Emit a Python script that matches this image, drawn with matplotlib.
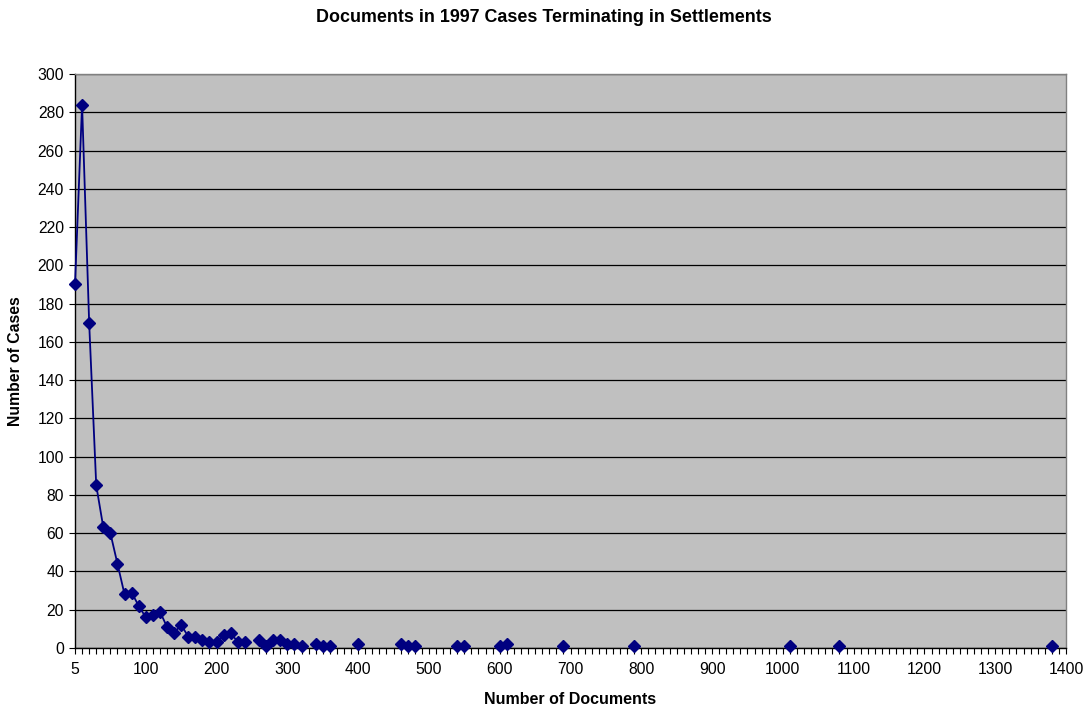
import numpy as np
import matplotlib
matplotlib.use("Agg")
import matplotlib.pyplot as plt
from matplotlib.ticker import FixedLocator, MultipleLocator

plt.rcParams['font.family'] = ['Liberation Sans', 'DejaVu Sans']

# Category axis (number of documents)
doc_categories = [5] + list(range(10, 1401, 10))
# Observed points (number of documents -> number of cases)
doc_values = [5, 10, 20, 30, 40, 50, 60, 70, 80, 90, 100, 110, 120, 130, 140,
              150, 160, 170, 180, 190, 200, 210, 220, 230, 240, 260, 270, 280,
              290, 300, 310, 320, 340, 350, 360, 400, 460, 470, 480, 540, 550,
              600, 610, 690, 790, 1010, 1080, 1380]
case_counts = [190, 284, 170, 85, 63, 60, 44, 28, 29, 22, 16, 17, 19, 11, 8,
               12, 6, 6, 4, 3, 3, 7, 8, 3, 3, 4, 1, 4,
               4, 2, 2, 1, 2, 1, 1, 2, 2, 1, 1, 1, 1,
               1, 2, 1, 1, 1, 1, 1]
x_tick_labels = ["5", "100", "200", "300", "400", "500", "600", "700", "800",
                 "900", "1000", "1100", "1200", "1300", "1400"]
y_ticks = [0, 20, 40, 60, 80, 100, 120, 140, 160, 180, 200, 220, 240, 260, 280, 300]

# Build series on the category axis (gaps where no data)
lookup = dict(zip(doc_values, case_counts))
y = np.array([lookup.get(c, np.nan) for c in doc_categories], dtype=float)
x = np.arange(len(doc_categories))

fig = plt.figure(figsize=(10.87, 7.10), dpi=100)
ax = fig.add_axes([75/1087, 62/710, (1066-75)/1087, (648-74)/710])
ax.set_facecolor('#C0C0C0')

ax.plot(x, y, color='#000080', lw=1.3, marker='D', markersize=6,
        markerfacecolor='#000080', markeredgecolor='#000080', zorder=3,
        clip_on=False)

ax.set_xlim(0, len(doc_categories) - 1)
ax.set_ylim(0, 300)
ax.set_yticks(y_ticks)
ax.yaxis.grid(True, color='black', lw=0.9)
ax.set_axisbelow(True)

label_pos = [doc_categories.index(int(l)) for l in x_tick_labels]
ax.xaxis.set_major_locator(FixedLocator(label_pos))
ax.set_xticklabels(x_tick_labels)
ax.xaxis.set_minor_locator(MultipleLocator(1))

ax.tick_params(axis='both', which='major', labelsize=11.3, length=4, width=0.8,
               direction='out', color='black')
ax.tick_params(axis='x', which='major', pad=6)
ax.tick_params(axis='x', which='minor', length=4, width=0.8, color='black')
ax.tick_params(axis='y', which='major', pad=4)

for s in ['left', 'bottom']:
    ax.spines[s].set_color('black')
    ax.spines[s].set_linewidth(1.0)
for s in ['top', 'right']:
    ax.spines[s].set_color('#808080')
    ax.spines[s].set_linewidth(1.0)

fig.text(0.5, 1 - 18/710, "Documents in 1997 Cases Terminating in Settlements",
         ha='center', va='center', fontsize=12.9, fontweight='bold')
fig.text(570/1087, 11/710, "Number of Documents", ha='center', va='center',
         fontsize=11.5, fontweight='bold')
fig.text(16/1087, 1 - 361/710, "Number of Cases", ha='center', va='center',
         rotation=90, fontsize=11.3, fontweight='bold')

fig.savefig("out.png", dpi=100)
